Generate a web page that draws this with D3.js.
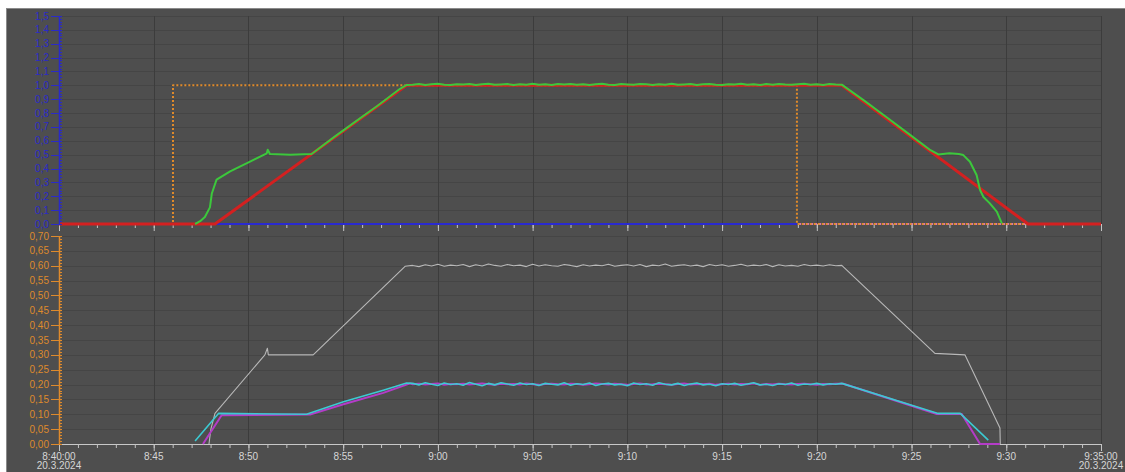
<!DOCTYPE html>
<html><head><meta charset="utf-8">
<script src="https://cdn.jsdelivr.net/npm/d3@7"></script>
<style>
html,body{margin:0;padding:0;background:#fff;}
svg{display:block;font-family:"Liberation Sans",Arial,sans-serif;}
</style></head>
<body><svg id="c" width="1125" height="472"></svg>
<script>
// ---------- data ----------
const timeStart = "8:40:00", timeEnd = "9:35:00";
const topTicks = [0,0.1,0.2,0.3,0.4,0.5,0.6,0.7,0.8,0.9,1.0,1.1,1.2,1.3,1.4,1.5];
const botTicks = [0,0.05,0.1,0.15,0.2,0.25,0.3,0.35,0.4,0.45,0.5,0.55,0.6,0.65,0.7];
const dateLabel = "20.3.2024";

// top chart
const topSetpoint = [["8:40:00",0],["8:46:01",0],["8:46:01",1.0],["9:18:57",1.0],["9:18:57",0],["9:35:00",0]];
const topRamp = [["8:40:00",0],["8:48:14",0],["8:58:21",1.0],["9:21:19",1.0],["9:31:09",0],["9:35:00",0]];
const topBlue = [["8:48:14",0],["9:18:57",0]];
const topPink = [["9:18:57",0],["9:31:09",0]];
const greenRise = [["8:47:11",0.0],["8:47:27",0.02],["8:47:42",0.05],["8:47:58",0.12],["8:48:04",0.22],["8:48:19",0.32],
  ["8:49:02",0.38],["8:50:05",0.45],["8:50:58",0.51],["8:51:01",0.535],["8:51:08",0.505],["8:52:12",0.50],["8:53:20",0.505],
  ["8:54:30",0.625],["8:55:40",0.74],["8:56:50",0.855],["8:58:00",0.975],["8:58:21",1.003]];
const greenPlateauStart = "8:58:40", plateauStep = 20; // seconds
const greenPlateau = [1.004,1.009,1.003,1.007,1.011,1.005,1.002,1.008,1.006,1.010,
  1.003,1.007,1.012,1.004,1.006,1.009,1.002,1.008,1.005,1.011,
  1.004,1.007,1.003,1.009,1.006,1.010,1.004,1.008,1.002,1.007,
  1.011,1.005,1.003,1.009,1.006,1.004,1.010,1.007,1.002,1.008,
  1.005,1.012,1.004,1.006,1.009,1.003,1.007,1.010,1.005,1.002,
  1.008,1.006,1.011,1.004,1.007,1.003,1.009,1.005,1.010,1.006,
  1.004,1.008,1.012,1.005,1.007,1.003,1.009,1.006];
const greenFall = [["9:21:19",1.005],["9:22:30",0.89],["9:23:40",0.772],["9:24:50",0.652],["9:26:00",0.532],["9:26:25",0.502],
  ["9:27:00",0.51],["9:27:30",0.505],["9:27:44",0.497],["9:28:05",0.449],["9:28:26",0.353],["9:28:37",0.245],
  ["9:28:47",0.197],["9:29:08",0.149],["9:29:30",0.089],["9:29:46",0.005]];

// bottom chart
const grayRise = [["8:47:55",0.0],["8:48:01",0.05],["8:48:14",0.103],["8:50:52",0.30],["8:51:00",0.322],["8:51:03",0.30],
  ["8:53:25",0.30],["8:58:16",0.598]];
const grayPlateau = [0.601,0.597,0.603,0.599,0.605,0.598,0.602,0.600,0.604,0.597,
  0.603,0.599,0.606,0.601,0.598,0.604,0.600,0.602,0.597,0.605,
  0.599,0.603,0.600,0.598,0.604,0.601,0.597,0.603,0.599,0.602,
  0.600,0.605,0.598,0.601,0.603,0.599,0.604,0.597,0.602,0.600,
  0.606,0.598,0.601,0.603,0.599,0.602,0.597,0.604,0.600,0.603,
  0.598,0.601,0.605,0.599,0.602,0.600,0.604,0.597,0.603,0.599,
  0.601,0.598,0.604,0.600,0.602,0.599,0.603,0.600];
const grayFall = [["9:21:19",0.601],["9:26:14",0.305],["9:27:49",0.30],["9:29:40",0.054],["9:29:41",0.0]];

const cyanRise = [["8:47:11",0.01],["8:48:25",0.103],["8:53:04",0.10],["8:55:01",0.142],["8:57:07",0.181],["8:58:21",0.205]];
const cyanPlateau = [0.204,0.199,0.206,0.201,0.197,0.205,0.200,0.203,0.198,0.207,
  0.201,0.196,0.204,0.199,0.206,0.202,0.198,0.205,0.200,0.203,
  0.197,0.204,0.201,0.199,0.206,0.198,0.203,0.200,0.205,0.197,
  0.202,0.204,0.199,0.201,0.196,0.205,0.200,0.203,0.198,0.206,
  0.201,0.199,0.204,0.197,0.202,0.205,0.199,0.201,0.196,0.203,
  0.200,0.204,0.198,0.202,0.206,0.199,0.201,0.197,0.203,0.200,
  0.205,0.198,0.202,0.200,0.204,0.199,0.203,0.201];
const cyanFall = [["9:21:19",0.204],["9:26:24",0.103],["9:27:34",0.103],["9:29:03",0.013]];

const magentaRise = [["8:47:36",0.0],["8:48:35",0.097],["8:53:15",0.099],["8:55:01",0.134],["8:57:07",0.172],["8:58:32",0.204]];
const magentaPlateau = [0.201,0.203,0.200,0.202,0.204,0.199,0.202,0.201,0.203,0.200,
  0.202,0.204,0.201,0.199,0.203,0.201,0.202,0.200,0.204,0.201,
  0.199,0.202,0.203,0.201,0.200,0.203,0.202,0.199,0.201,0.204,
  0.202,0.200,0.203,0.201,0.199,0.202,0.204,0.200,0.201,0.203,
  0.201,0.199,0.202,0.204,0.200,0.202,0.201,0.203,0.199,0.201,
  0.203,0.200,0.202,0.201,0.204,0.199,0.202,0.200,0.203,0.201,
  0.200,0.202,0.203,0.201,0.199,0.202,0.201,0.203];
const magentaFall = [["9:21:24",0.203],["9:26:20",0.101],["9:27:39",0.101],["9:28:37",0.0],["9:29:40",0.0]];

// ---------- helpers ----------
function T(s){const p=s.split(":").map(Number);return new Date(2024,2,20,p[0],p[1],p[2]||0);}
function pts(a){return a.map(d=>({t:T(d[0]),v:d[1]}));}
function plateau(start,vals){const t0=T(start).getTime();return vals.map((v,i)=>({t:new Date(t0+i*plateauStep*1000),v:v}));}
function series(rise,pStart,pVals,fall){return pts(rise).concat(plateau(pStart,pVals),pts(fall));}
const fmt = v => d3.format(".1f")(v).replace(".",",");
const fmt2 = v => d3.format(".2f")(v).replace(".",",");

// ---------- layout ----------
const svg = d3.select("#c");
const X0=59, X1=1101;
const x = d3.scaleTime().domain([T(timeStart),T(timeEnd)]).range([X0,X1]);
const yT = d3.scaleLinear().domain([0,1.5]).range([224,16]);
const yB = d3.scaleLinear().domain([0,0.7]).range([444,236]);

// panel
svg.append("rect").attr("x",6).attr("y",8).attr("width",1119).attr("height",464).attr("fill","#4e4e4e");
svg.append("line").attr("x1",6).attr("x2",1125).attr("y1",8.5).attr("y2",8.5).attr("stroke","#8a8a8a");
svg.append("line").attr("x1",6.5).attr("x2",6.5).attr("y1",8).attr("y2",472).attr("stroke","#8a8a8a");

// grids
const majorTimes = x.ticks(d3.timeMinute.every(5));
function grid(y,ticks){
  const g=svg.append("g");
  g.selectAll("line.h").data(ticks).join("line").attr("x1",X0).attr("x2",X1)
    .attr("y1",d=>Math.round(y(d))+0.5).attr("y2",d=>Math.round(y(d))+0.5).attr("stroke","#454545");
  g.selectAll("line.v").data(majorTimes).join("line").attr("y1",y.range()[1]).attr("y2",y.range()[0])
    .attr("x1",d=>Math.round(x(d))+0.5).attr("x2",d=>Math.round(x(d))+0.5).attr("stroke","#3c3c3c");
}
grid(yT,topTicks); grid(yB,botTicks);

function draw(data,y,color,w,dash,offset){
  const line=d3.line().x(d=>x(d.t)).y(d=>y(d.v));
  const p=svg.append("path").datum(data).attr("d",line).attr("fill","none").attr("stroke",color)
    .attr("stroke-width",w).attr("stroke-linejoin","round");
  if(dash){p.attr("stroke-dasharray",dash).attr("stroke-dashoffset",offset||0);}
  return p;
}
function xTicks(yPos){
  const g=svg.append("g").attr("transform",`translate(0,${yPos})`);
  g.call(d3.axisBottom(x).ticks(d3.timeMinute.every(1)).tickSize(4).tickFormat(""));
  g.select(".domain").remove();
  g.selectAll(".tick line").attr("stroke","#c4c4c4");
  const g2=svg.append("g").attr("transform",`translate(0,${yPos})`);
  g2.call(d3.axisBottom(x).ticks(d3.timeMinute.every(5)).tickSize(7).tickFormat(""));
  g2.select(".domain").remove();
  g2.selectAll(".tick line").attr("stroke","#c4c4c4");
}

// bottom x axis
svg.append("line").attr("x1",X0).attr("x2",X1).attr("y1",444.5).attr("y2",444.5).attr("stroke","#c8c8c8");
xTicks(444);
const lab=svg.append("g").attr("font-size",10).attr("fill","#d6d6d6").attr("text-anchor","middle");
majorTimes.forEach((d,i)=>{
  const first=i===0,last=i===majorTimes.length-1;
  const txt = (first||last)? d3.timeFormat("%-H:%M:%S")(d) : d3.timeFormat("%-H:%M")(d);
  lab.append("text").attr("x",x(d)).attr("y",460).text(txt);
  if(first||last) lab.append("text").attr("x",x(d)).attr("y",469).text(dateLabel);
});

// bottom chart lines
draw(series(grayRise,greenPlateauStart,grayPlateau,grayFall),yB,"#b8b8b8",1.1);
draw(series(magentaRise,greenPlateauStart,magentaPlateau,magentaFall),yB,"#b43cc8",2);
draw(series(cyanRise,greenPlateauStart,cyanPlateau,cyanFall),yB,"#3ccad2",1.6);

// top chart lines
xTicks(224);
draw(pts(topBlue),yT,"#2a2ad0",2);
draw(pts(topPink),yT,"#e07ab8",2,"2,2",2);
draw(pts(topSetpoint),yT,"#e08a2a",2,"2,2",0);
draw(pts(topRamp),yT,"#d42020",3);
draw(series(greenRise,greenPlateauStart,greenPlateau,greenFall),yT,"#3cc83c",2);

// y axes
function yAxis(y,ticks,minorStep,color,f){
  const g=svg.append("g").attr("transform",`translate(${X0},0)`);
  const [lo,hi]=y.domain();
  const minor=d3.range(lo,hi+minorStep/2,minorStep);
  g.selectAll("line.mi").data(minor).join("line").attr("x1",0).attr("x2",3)
    .attr("y1",d=>Math.round(y(d))+0.5).attr("y2",d=>Math.round(y(d))+0.5).attr("stroke",color);
  g.selectAll("line.ma").data(ticks).join("line").attr("x1",-8).attr("x2",3)
    .attr("y1",d=>Math.round(y(d))+0.5).attr("y2",d=>Math.round(y(d))+0.5).attr("stroke",color);
  g.append("line").attr("x1",0.5).attr("x2",0.5).attr("y1",y.range()[1]).attr("y2",y.range()[0]).attr("stroke",color).attr("stroke-width",1.5);
  g.selectAll("text").data(ticks).join("text").attr("x",-10).attr("y",d=>y(d)+3.5)
    .attr("text-anchor","end").attr("font-size",10).attr("fill",color).text(f);
}
yAxis(yT,topTicks,0.02,"#2a2ac8",fmt);
yAxis(yB,botTicks,0.01,"#de8a2c",fmt2);
</script></body></html>
